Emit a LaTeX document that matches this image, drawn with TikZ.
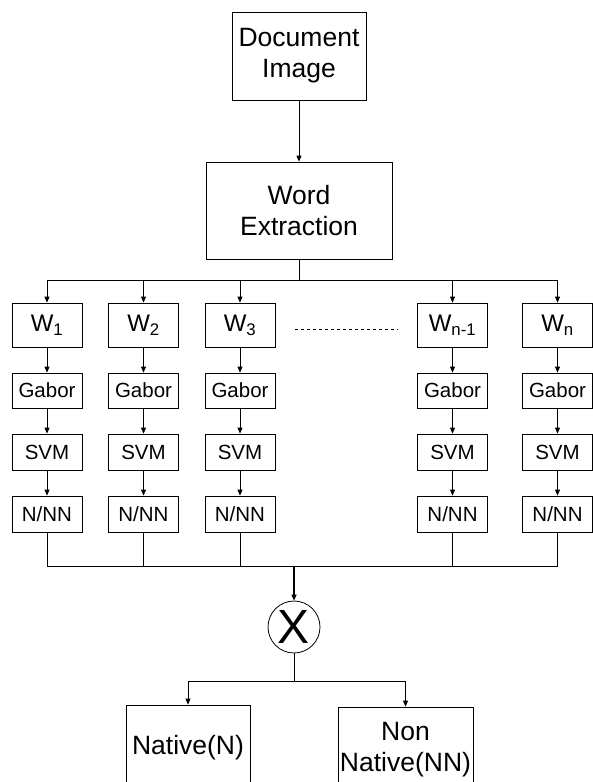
\documentclass[tikz,border=0pt]{standalone}
\usepackage{fontspec}
\setmainfont{Liberation Sans}
\usetikzlibrary{arrows.meta,positioning,calc}

\begin{document}
\begin{tikzpicture}[x=1pt, y=-1pt, line width=0.8pt,
  bigbox/.style={draw, align=center, inner sep=2pt, font=\fontsize{26.5}{31}\selectfont},
  wbox/.style={draw, minimum width=70pt, minimum height=44pt, inner sep=1pt, font=\fontsize{24}{26}\selectfont},
  stagebox/.style={draw, minimum width=70pt, minimum height=36pt, inner sep=1pt, font=\fontsize{20.5}{22}\selectfont},
  arr/.style={-{Triangle[length=6pt,width=5pt]}}]
  \useasboundingbox (0,0) rectangle (592,782);

  %--- input and word extraction ---
  \node[bigbox, minimum width=134pt, minimum height=88pt] (doc) at (299,56) {Document\\Image};
  \node[bigbox, minimum width=186pt, minimum height=97pt] (we) at (299,210.5) {Word\\Extraction};
  \draw[arr] (doc.south) -- (we.south |- we.north);

  %--- word columns ---
  \node[wbox] (w1) at (47,325) {W\textsubscript{1}};
  \node[wbox] (w2) at (143.5,325) {W\textsubscript{2}};
  \node[wbox] (w3) at (240,325) {W\textsubscript{3}};
  \node[wbox] (wm) at (452.5,325) {W\textsubscript{n-1}};
  \node[wbox] (wn) at (557.5,325) {W\textsubscript{n}};

  \node[stagebox, minimum height=35pt] (g1) at (47,390.5) {Gabor};
  \node[stagebox, minimum height=35pt] (g2) at (143.5,390.5) {Gabor};
  \node[stagebox, minimum height=35pt] (g3) at (240,390.5) {Gabor};
  \node[stagebox, minimum height=35pt] (gm) at (452.5,390.5) {Gabor};
  \node[stagebox, minimum height=35pt] (gn) at (557.5,390.5) {Gabor};

  \node[stagebox] (s1) at (47,452) {SVM};
  \node[stagebox] (s2) at (143.5,452) {SVM};
  \node[stagebox] (s3) at (240,452) {SVM};
  \node[stagebox] (sm) at (452.5,452) {SVM};
  \node[stagebox] (sn) at (557.5,452) {SVM};

  \node[stagebox] (c1) at (47,514) {N/NN};
  \node[stagebox] (c2) at (143.5,514) {N/NN};
  \node[stagebox] (c3) at (240,514) {N/NN};
  \node[stagebox] (cm) at (452.5,514) {N/NN};
  \node[stagebox] (cn) at (557.5,514) {N/NN};

  % dots between W3 and Wn-1
  \coordinate (dotl) at (295,329);
  \coordinate (dotr) at (398,329);
  \draw[dashed, dash pattern=on 3pt off 3pt, line width=0.6pt] (dotl) -- (dotr);

  % top bus
  \coordinate (top) at (299,280);
  \draw (we.south) -- (top);
  \draw (top -| w1) -- (top -| wn);
  \draw[arr] (top -| w1) -- (w1.north);
  \draw[arr] (top -| w2) -- (w2.north);
  \draw[arr] (top -| w3) -- (w3.north);
  \draw[arr] (top -| wm) -- (wm.north);
  \draw[arr] (top -| wn) -- (wn.north);

  % column arrows
  \draw[arr] (w1) -- (g1);  \draw[arr] (g1) -- (s1);  \draw[arr] (s1) -- (c1);
  \draw[arr] (w2) -- (g2);  \draw[arr] (g2) -- (s2);  \draw[arr] (s2) -- (c2);
  \draw[arr] (w3) -- (g3);  \draw[arr] (g3) -- (s3);  \draw[arr] (s3) -- (c3);
  \draw[arr] (wm) -- (gm);  \draw[arr] (gm) -- (sm);  \draw[arr] (sm) -- (cm);
  \draw[arr] (wn) -- (gn);  \draw[arr] (gn) -- (sn);  \draw[arr] (sn) -- (cn);

  %--- combination ---
  \node[draw, circle, minimum size=52pt, inner sep=0pt, font=\fontsize{48}{48}\selectfont] (comb) at (294,627) {X};

  % bottom bus
  \coordinate (bot) at (294,566);
  \draw (c1.south) -- (c1.south |- bot);
  \draw (c2.south) -- (c2.south |- bot);
  \draw (c3.south) -- (c3.south |- bot);
  \draw (cm.south) -- (cm.south |- bot);
  \draw (cn.south) -- (cn.south |- bot);
  \draw (bot -| c1) -- (bot -| cn);
  \draw[arr, line width=1.6pt] (bot) -- (comb.north);

  %--- decision ---
  \node[bigbox, minimum width=124pt, minimum height=86pt] (nat) at (188,748) {Native(N)};
  \node[bigbox, minimum width=133pt, minimum height=86pt] (non) at (405.5,750) {Non\\Native(NN)};

  \coordinate (split) at (294,681);
  \draw (comb.south) -- (split);
  \draw (split -| nat) -- (split -| non);
  \draw[arr] (split -| nat) -- (nat.north);
  \draw[arr] (split -| non) -- (non.north);
\end{tikzpicture}
\end{document}
